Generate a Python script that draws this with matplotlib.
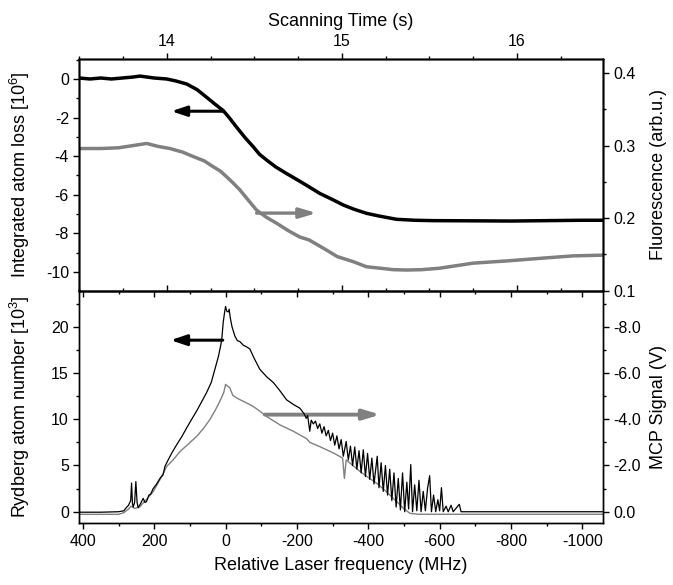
import matplotlib
matplotlib.use('Agg')
import matplotlib.pyplot as plt
from matplotlib.ticker import MultipleLocator, FormatStrFormatter

plt.rcParams['font.family'] = ['Liberation Sans', 'DejaVu Sans']
plt.rcParams['mathtext.fontset'] = 'custom'
plt.rcParams['mathtext.rm'] = 'Liberation Sans'
plt.rcParams['mathtext.it'] = 'Liberation Sans:italic'
plt.rcParams['mathtext.bf'] = 'Liberation Sans:bold'
plt.rcParams['axes.unicode_minus'] = False

# ---------------- data ----------------
# Top panel: integrated atom loss [10^6] (left axis) vs relative laser frequency (MHz)
loss_freq = [410, 380, 350, 320, 290, 260, 240, 220, 200, 165, 140, 109, 80, 53, 30, 7,
             -10, -31, -55, -77, -95, -115, -140, -171, -208, -235, -264, -300, -330,
             -360, -395, -430, -479, -530, -582, -700, -800, -900, -1000, -1057]
loss_vals = [0.05, 0.0, 0.05, 0.0, 0.05, 0.1, 0.15, 0.1, 0.05, 0.0, -0.1, -0.26, -0.55,
             -0.95, -1.3, -1.63, -2.0, -2.5, -3.05, -3.5, -3.9, -4.2, -4.55, -4.9, -5.3,
             -5.6, -5.93, -6.25, -6.53, -6.75, -6.96, -7.1, -7.27, -7.32, -7.34, -7.35,
             -7.36, -7.34, -7.32, -7.32]

# Top panel: fluorescence (arb.u.) (right axis)
fluor_freq = [410, 350, 300, 260, 221, 190, 156, 120, 91, 60, 35, 15, -3, -20, -40, -60,
              -87, -115, -143, -175, -208, -234, -283, -313, -358, -395, -433, -470, -508,
              -550, -600, -694, -787, -881, -974, -1057]
fluor_vals = [0.296, 0.296, 0.297, 0.300, 0.303, 0.299, 0.296, 0.291, 0.285, 0.279, 0.271,
              0.265, 0.257, 0.249, 0.239, 0.227, 0.211, 0.201, 0.193, 0.183, 0.174, 0.170,
              0.156, 0.147, 0.140, 0.133, 0.131, 0.129, 0.1285, 0.129, 0.131, 0.138, 0.141,
              0.1446, 0.148, 0.149]

# Bottom panel: Rydberg atom number [10^3] (left axis)
ryd_freq = [410, 350, 300, 285, 280, 272, 266, 263.5, 261, 259, 255, 251.5, 248, 245, 238,
            231, 226, 221.5, 215, 210, 203, 195, 184, 175, 170, 161, 150, 137, 123, 109, 95,
            81, 67, 53, 40, 30, 20, 11, 6.6, 3, 0, -3, -7.5, -10, -13, -18, -26, -33, -40,
            -50, -60, -68, -80, -96, -115, -134, -150, -171, -190, -208, -220, -226, -230,
            -236, -240, -246, -252, -258, -264, -270, -276, -282, -288, -294, -300, -306,
            -312, -318, -324, -330, -338, -344, -350, -356, -362, -368, -374, -380, -386,
            -392, -398, -404, -410, -416, -425, -430, -436, -442, -448, -454, -460, -466,
            -472, -478, -484, -490, -496, -502, -508, -513, -519, -524, -530, -536, -542,
            -548, -554, -560, -566, -572, -577, -583, -589, -595, -600, -605, -610, -618,
            -624, -632, -638, -655, -660, -1057]
ryd_vals = [-0.05, -0.05, 0.0, 0.1, 0.37, 0.7, 1.2, 3.1, 0.9, 0.5, 1.0, 3.26, 1.0, 0.43, 0.9,
            1.45, 1.0, 1.1, 1.8, 1.9, 2.5, 2.9, 3.6, 4.0, 4.9, 5.6, 6.4, 7.25, 8.1, 9.07, 10.0,
            10.9, 11.9, 12.9, 14.0, 15.4, 16.8, 18.5, 20.5, 21.5, 22.2, 21.7, 21.6, 21.9, 21.0,
            20.0, 19.0, 18.5, 18.4, 18.0, 17.8, 17.6, 16.6, 15.4, 14.6, 13.96, 13.2, 12.1,
            11.6, 11.2, 10.6, 10.1, 10.4, 8.7, 9.9, 9.5, 9.8, 9.0, 9.5, 8.5, 9.2, 8.2, 8.8,
            7.7, 8.5, 7.2, 8.2, 6.8, 7.8, 6.0, 7.6, 5.6, 7.1, 5.0, 7.0, 4.6, 6.6, 4.2, 6.7,
            3.8, 6.3, 3.5, 5.8, 3.0, 6.0, 2.6, 5.3, 2.2, 5.0, 1.8, 4.6, 1.2, 4.2, 0.5, 3.6,
            0.2, 4.2, 0.0, 3.2, 0.3, 5.1, 0.0, 2.9, 0.1, 3.4, 0.0, 2.2, 0.1, 2.5, 3.9, 0.0,
            1.8, 0.0, 1.3, 0.1, 2.6, 0.0, 0.6, 0.0, 0.7, 0.0, 0.8, 0.0, 0.0]

# Bottom panel: MCP signal (V) (right axis)
mcp_freq = [410, 300, 285, 272, 265, 255, 240, 230, 220, 203, 185, 165, 145, 128, 105, 81,
            60, 44, 30, 16, 5, 0, -5, -12, -20, -31, -49, -77, -95, -115, -152, -190, -227,
            -236, -262, -283, -305, -328, -333, -338, -377, -400, -423, -447, -470, -485,
            -498, -517, -540, -1057]
mcp_vals = [0.112, 0.112, 0.04, -0.12, -0.24, -0.14, -0.216, -0.4, -0.56, -0.868, -1.36,
            -1.96, -2.28, -2.6, -2.92, -3.26, -3.64, -3.99, -4.36, -4.78, -5.16, -5.51,
            -5.44, -5.36, -5.04, -4.92, -4.78, -4.56, -4.36, -4.12, -3.76, -3.48, -3.16,
            -3.0, -2.83, -2.68, -2.52, -2.32, -1.44, -2.24, -1.74, -1.48, -1.24, -0.92,
            -0.58, -0.36, -0.15, 0.07, 0.11, 0.11]

freq_lim = (410, -1057)
time_lim = (13.5, 16.49)

BLACK = '#000000'
GRAY = '#808080'
FS_LABEL = 13
FS_TICK = 11.5

# ---------------- figure ----------------
fig = plt.figure(figsize=(6.73, 5.85), dpi=100)
fig.patch.set_facecolor('white')
W_PX, H_PX = 673.0, 585.0
left = 79.3 / W_PX
width = (602.7 - 79.3) / W_PX
ax1 = fig.add_axes([left, 1 - 290.7 / H_PX, width, (290.7 - 59.3) / H_PX])
ax2 = fig.add_axes([left, 1 - 523.3 / H_PX, width, (523.3 - 290.7) / H_PX])

ax1r = ax1.twinx()
ax2r = ax2.twinx()
ax1t = ax1.twiny()
ax1b = ax1.twiny()

for a in (ax1, ax2, ax1r, ax2r, ax1t, ax1b):
    a.patch.set_visible(False)
    for s in a.spines.values():
        s.set_linewidth(1.0)

ax1r.set_zorder(1)
ax1.set_zorder(2)
ax1t.set_zorder(3)
ax1b.set_zorder(3)
ax2r.set_zorder(1)
ax2.set_zorder(2)

common = dict(length=4.0, width=1.0, labelsize=FS_TICK, pad=3.5)
minor = dict(length=2.4, width=1.0)

# ---- top panel ----
ax1.plot(loss_freq, loss_vals, color=BLACK, lw=2.5)
ax1r.plot(fluor_freq, fluor_vals, color=GRAY, lw=2.5)
ax1.set_xlim(*freq_lim)
ax1.set_ylim(-10.97, 1.02)
ax1r.set_ylim(0.1, 0.419)
ax1.yaxis.set_major_locator(MultipleLocator(2))
ax1.yaxis.set_minor_locator(MultipleLocator(1))
ax1.yaxis.set_major_formatter(FormatStrFormatter('%d'))
ax1r.yaxis.set_major_locator(MultipleLocator(0.1))
ax1r.yaxis.set_minor_locator(MultipleLocator(0.05))
ax1r.yaxis.set_major_formatter(FormatStrFormatter('%.1f'))
ax1.xaxis.set_major_locator(MultipleLocator(200))
ax1.xaxis.set_minor_locator(MultipleLocator(100))

ax1.tick_params(axis='x', which='both', direction='out', bottom=True, top=False,
                labelbottom=False, labeltop=False)
ax1.tick_params(axis='x', which='major', **common)
ax1.tick_params(axis='x', which='minor', **minor)
ax1.tick_params(axis='y', which='both', direction='out', left=True, right=False)
ax1.tick_params(axis='y', which='major', **common)
ax1.tick_params(axis='y', which='minor', **minor)
ax1r.tick_params(axis='y', which='both', direction='out', left=False, right=True)
ax1r.tick_params(axis='y', which='major', **common)
ax1r.tick_params(axis='y', which='minor', **minor)

for a in (ax1t, ax1b):
    a.set_xlim(*time_lim)
    a.xaxis.set_major_locator(MultipleLocator(1))
    a.xaxis.set_minor_locator(MultipleLocator(0.25))
    a.xaxis.set_major_formatter(FormatStrFormatter('%d'))
ax1t.tick_params(axis='x', which='both', direction='out', top=True, bottom=False,
                 labeltop=True, labelbottom=False)
ax1t.tick_params(axis='x', which='major', **common)
ax1t.tick_params(axis='x', which='minor', **minor)
ax1b.xaxis.set_ticks_position('bottom')
ax1b.tick_params(axis='x', which='both', direction='in', top=False, bottom=True,
                 labeltop=False, labelbottom=False)
ax1b.tick_params(axis='x', which='major', **common)
ax1b.tick_params(axis='x', which='minor', **minor)
ax1t.set_xlabel('Scanning Time (s)', fontsize=FS_LABEL, labelpad=6)

ax1.set_ylabel('Integrated atom loss [10$^6$]', fontsize=FS_LABEL)
ax1.yaxis.set_label_coords(-0.0904, 0.5)
ax1r.set_ylabel('Fluorescence (arb.u.)', fontsize=FS_LABEL)
ax1r.yaxis.set_label_coords(1.0904, 0.5)

# arrows top
ax1.annotate('', xy=(152, -1.67), xytext=(7, -1.67),
             arrowprops=dict(arrowstyle='-|>,head_length=0.9,head_width=0.3',
                             mutation_scale=10, lw=2.2, color=BLACK,
                             shrinkA=0, shrinkB=0))
ax1r.annotate('', xy=(-255, 0.207), xytext=(-87, 0.207),
              arrowprops=dict(arrowstyle='-|>,head_length=1.0,head_width=0.3',
                              mutation_scale=10, lw=2.4, color=GRAY,
                              shrinkA=0, shrinkB=0))

# ---- bottom panel ----
ax2r.plot(mcp_freq, mcp_vals, color=GRAY, lw=1.0)
ax2.plot(ryd_freq, ryd_vals, color=BLACK, lw=0.9)
ax2.set_xlim(*freq_lim)
ax2.set_ylim(-1.25, 23.9)
ax2r.set_ylim(0.5, -9.56)
ax2.xaxis.set_major_locator(MultipleLocator(200))
ax2.xaxis.set_minor_locator(MultipleLocator(100))
ax2.xaxis.set_major_formatter(FormatStrFormatter('%d'))
ax2.yaxis.set_major_locator(MultipleLocator(5))
ax2.yaxis.set_minor_locator(MultipleLocator(2.5))
ax2.yaxis.set_major_formatter(FormatStrFormatter('%d'))
ax2r.yaxis.set_major_locator(MultipleLocator(2))
ax2r.yaxis.set_minor_locator(MultipleLocator(1))
ax2r.yaxis.set_major_formatter(FormatStrFormatter('%.1f'))

ax2.tick_params(axis='x', which='both', direction='out', bottom=True, top=False,
                labelbottom=True, labeltop=False)
ax2.tick_params(axis='x', which='major', **common)
ax2.tick_params(axis='x', which='minor', **minor)
ax2.tick_params(axis='y', which='both', direction='out', left=True, right=False)
ax2.tick_params(axis='y', which='major', **common)
ax2.tick_params(axis='y', which='minor', **minor)
ax2r.tick_params(axis='y', which='both', direction='out', left=False, right=True)
ax2r.tick_params(axis='y', which='major', **common)
ax2r.tick_params(axis='y', which='minor', **minor)

ax2.set_xlabel('Relative Laser frequency (MHz)', fontsize=FS_LABEL, labelpad=6)
ax2.set_ylabel('Rydberg atom number [10$^3$]', fontsize=FS_LABEL)
ax2.yaxis.set_label_coords(-0.0904, 0.5)
ax2r.set_ylabel('MCP Signal (V)', fontsize=FS_LABEL)
ax2r.yaxis.set_label_coords(1.0904, 0.5)

ax2.annotate('', xy=(154, 18.55), xytext=(8, 18.55),
             arrowprops=dict(arrowstyle='-|>,head_length=0.95,head_width=0.32',
                             mutation_scale=10, lw=2.2, color=BLACK,
                             shrinkA=0, shrinkB=0))
ax2r.annotate('', xy=(-434, -4.2), xytext=(-110, -4.2),
              arrowprops=dict(arrowstyle='-|>,head_length=1.0,head_width=0.3',
                              mutation_scale=10, lw=2.8, color=GRAY,
                              shrinkA=0, shrinkB=0))

fig.savefig('out.png', dpi=100, facecolor='white')
